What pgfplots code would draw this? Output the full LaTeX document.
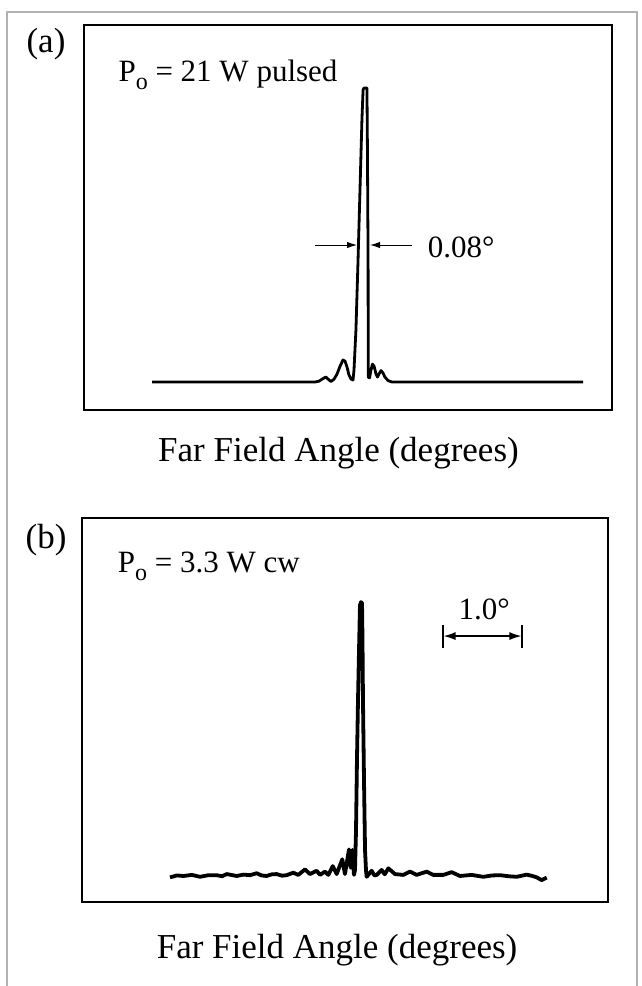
\documentclass[border=0pt]{standalone}
\usepackage{fontspec}
\setmainfont{Liberation Serif}
\usepackage{pgfplots}
\pgfplotsset{compat=1.18}
\usetikzlibrary{arrows.meta}

\newcommand{\labfont}{\fontsize{17.5}{20}\selectfont}
\newcommand{\annfont}{\fontsize{15.5}{18}\selectfont}
\newcommand{\Po}{P\raisebox{-0.5ex}{\fontsize{12}{13}\selectfont o}}

\pgfplotsset{
  farfield/.style={
    scale only axis,
    xtick=\empty, ytick=\empty,
    axis line style={line width=1.1pt},
    xlabel={Far Field Angle (degrees)},
    xlabel style={font=\labfont, anchor=base},
  },
}

\begin{document}
\begin{tikzpicture}
% page size and outer frame
\path[use as bounding box] (0,0) rectangle (321pt,-493pt);
\draw[gray!60, line width=0.7pt] (3.5pt,-493pt) -- (3.5pt,-6pt) -- (318.5pt,-6pt) -- (318.5pt,-493pt);

\node[font=\labfont] at (23pt,-22pt) {(a)};
\node[font=\labfont] at (23pt,-270pt) {(b)};

% (a) pulsed
\begin{axis}[farfield,
    at={(42pt,-205pt)}, anchor=south west,
    width=264pt, height=192.5pt,
    xmin=-1.735, xmax=1.525, ymin=-0.095, ymax=1.214,
    xlabel style={at={(axis description cs:0.482,-0.135)}},
]
\addplot[black, line width=1.4pt, line join=round] coordinates {
(-1.315,0) (-0.309,0) (-0.284,0.003) (-0.259,0.012) (-0.241,0.017)
(-0.222,0.007) (-0.210,0.002) (-0.191,0.010) (-0.173,0.027) (-0.154,0.054)
(-0.136,0.075) (-0.123,0.071) (-0.111,0.051) (-0.099,0.024) (-0.086,0.010)
(-0.074,0.007) (-0.068,0.041) (-0.056,0.177) (-0.043,0.415) (-0.031,0.653)
(-0.019,0.891) (-0.012,0.993) (-0.006,1.000) (0.012,1.000) (0.015,0.789)
(0.019,0.415) (0.020,0.017) (0.028,0.014) (0.037,0.041) (0.046,0.061)
(0.056,0.054) (0.068,0.027) (0.077,0.017) (0.086,0.027) (0.099,0.039)
(0.111,0.031) (0.123,0.017) (0.142,0.005) (0.167,0) (1.346,0)
};
\node[font=\annfont, anchor=base west] at (axis description cs:0.052,0.852) {\Po{} = 21 W pulsed};
\draw[line width=0.5pt, -{Latex[length=5pt,width=3.2pt]}] (axis cs:-0.309,0.466) -- (axis cs:-0.049,0.466);
\draw[line width=0.5pt, -{Latex[length=5pt,width=3.2pt]}] (axis cs:0.290,0.466) -- (axis cs:0.031,0.466);
\node[font=\annfont, anchor=base west] at (axis cs:0.345,0.425) {0.08°};
\end{axis}

% (b) cw
\begin{axis}[farfield,
    at={(41pt,-451pt)}, anchor=south west,
    width=263pt, height=192pt,
    xmin=-3.532, xmax=3.127, ymin=-0.095, ymax=1.307,
    xlabel style={at={(axis description cs:0.485,-0.146)}},
]
\addplot[black, line width=1.9pt, line join=round] coordinates {
(-2.418,-0.005) (-2.33,0.002) (-2.249,0.000) (-2.14,0.004) (-2.038,-0.003)
(-1.93,0.003) (-1.827,0.003) (-1.76,-0.001) (-1.700,0.007) (-1.573,0.000)
(-1.49,0.005) (-1.405,0.003) (-1.320,0.010) (-1.26,0.002) (-1.194,0.000)
(-1.13,0.006) (-1.067,0.007) (-1.00,0.001) (-0.941,0.003) (-0.857,0.012)
(-0.794,0.004) (-0.709,0.024) (-0.646,0.007) (-0.561,0.019) (-0.519,0.004)
(-0.456,0.016) (-0.414,0.004) (-0.358,0.036) (-0.308,0.007) (-0.237,0.061)
(-0.203,0.007) (-0.152,0.097) (-0.13,0.030) (-0.110,0.095) (-0.089,0.004)
(-0.076,0.022) (-0.063,0.168) (-0.051,0.423) (-0.038,0.642) (-0.025,0.825)
(-0.013,0.989) (0.000,1.000) (0.013,0.996) (0.019,0.861) (0.025,0.642)
(0.038,0.350) (0.051,0.095) (0.063,0.022) (0.072,-0.003) (0.135,0.019)
(0.17,0.002) (0.199,0.004) (0.262,0.022) (0.30,0.006) (0.346,0.028)
(0.430,0.007) (0.535,0.004) (0.620,0.016) (0.705,0.004) (0.832,0.016)
(0.915,0.004) (1.042,0.004) (1.148,0.014) (1.253,0.000) (1.40,0.004)
(1.548,-0.003) (1.66,0.002) (1.759,0.003) (1.87,-0.001) (1.971,-0.003)
(2.097,0.005) (2.17,0.000) (2.224,-0.005) (2.287,-0.015) (2.351,-0.006)
};
\node[font=\annfont, anchor=base west] at (axis description cs:0.055,0.857) {\Po{} = 3.3 W cw};
\draw[line width=0.7pt, {Latex[length=6pt,width=4pt]}-{Latex[length=6pt,width=4pt]}] (axis cs:1.045,0.876) -- (axis cs:2.031,0.876);
\draw[line width=1.1pt] (axis cs:1.038,0.832) -- (axis cs:1.038,0.916);
\draw[line width=1.1pt] (axis cs:2.038,0.832) -- (axis cs:2.038,0.916);
\node[font=\annfont, anchor=base] at (axis cs:1.56,0.938) {1.0°};
\end{axis}
\end{tikzpicture}
\end{document}
